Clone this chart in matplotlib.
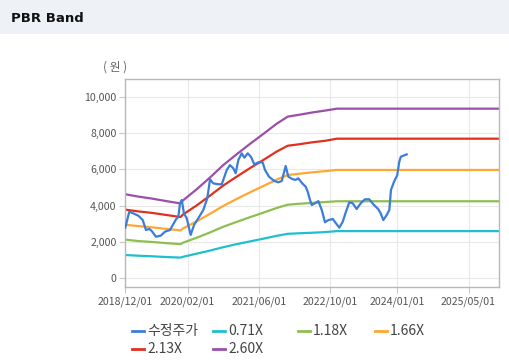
import matplotlib
matplotlib.use('Agg')
import matplotlib.pyplot as plt
from matplotlib.lines import Line2D
from matplotlib.patches import Rectangle
import matplotlib.ticker as mticker
import pandas as pd

plt.rcParams['font.family'] = ['Noto Sans CJK KR', 'DejaVu Sans']

# 수정주가 (adjusted price)
price_dates = [
    '2018-12-03', '2018-12-30', '2019-01-27', '2019-03-02', '2019-04-01', '2019-04-23',
    '2019-05-16', '2019-06-01', '2019-06-30', '2019-08-02', '2019-08-31', '2019-10-04',
    '2019-10-26', '2019-11-14', '2019-11-30', '2019-12-11', '2019-12-23', '2020-01-07',
    '2020-01-26', '2020-02-22', '2020-03-16', '2020-04-14', '2020-05-18', '2020-06-14',
    '2020-07-03', '2020-07-25', '2020-08-28', '2020-09-21', '2020-10-25', '2020-11-16',
    '2020-12-09', '2020-12-25', '2021-01-12', '2021-02-04', '2021-02-22', '2021-03-17',
    '2021-04-08', '2021-05-01', '2021-05-28', '2021-06-27', '2021-07-13', '2021-08-09',
    '2021-09-14', '2021-10-12', '2021-11-04', '2021-12-01', '2021-12-19', '2022-01-15',
    '2022-02-07', '2022-02-25', '2022-03-24', '2022-04-17', '2022-04-30', '2022-05-16',
    '2022-05-28', '2022-06-19', '2022-07-12', '2022-08-04', '2022-08-26', '2022-09-18',
    '2022-10-18', '2022-11-09', '2022-12-02', '2022-12-25', '2023-01-16', '2023-02-08',
    '2023-03-03', '2023-03-30', '2023-04-27', '2023-05-26', '2023-06-24', '2023-07-22',
    '2023-08-25', '2023-09-10', '2023-09-28', '2023-10-21', '2023-11-08', '2023-11-19',
    '2023-12-10', '2024-01-01', '2024-01-15', '2024-01-25', '2024-02-11', '2024-03-05',
]
price = [
    2780, 3660, 3570, 3440, 3200, 2650,
    2710, 2600, 2280, 2340, 2560, 2650,
    2970, 3240, 3390, 4130, 4310, 3570,
    3300, 2380, 2930, 3300, 3760, 4400,
    5450, 5230, 5180, 5180, 5970, 6240,
    6060, 5790, 6520, 6890, 6650, 6890,
    6700, 6280, 6390, 6390, 5970, 5600,
    5360, 5290, 5360, 6190, 5600, 5470,
    5420, 5510, 5230, 5040, 4770, 4310,
    4030, 4130, 4250, 3760, 3080, 3200,
    3260, 3020, 2780, 3110, 3660, 4180,
    4130, 3810, 4130, 4350, 4350, 4070,
    3800, 3570, 3200, 3480, 3760, 4860,
    5320, 5690, 6430, 6700, 6760, 6830,
]

# PBR band lines
band_dates = [
    '2018-12-01', '2019-03-01', '2019-06-01', '2019-09-01', '2019-12-15', '2020-01-01',
    '2020-04-01', '2020-07-01', '2020-10-01', '2021-01-01', '2021-04-01', '2021-07-01',
    '2021-10-01', '2021-12-15', '2022-03-01', '2022-06-01', '2022-09-01', '2022-11-15',
    '2025-11-25',
]
band_071 = [1270, 1230, 1200, 1160, 1125, 1170, 1340, 1510, 1700, 1870, 2020, 2170,
            2330, 2440, 2470, 2500, 2540, 2590, 2590]
band_118 = [2120, 2040, 1990, 1930, 1870, 1950, 2220, 2510, 2830, 3100, 3360, 3610,
            3870, 4050, 4100, 4150, 4200, 4240, 4240]
band_166 = [2940, 2870, 2800, 2720, 2630, 2740, 3120, 3540, 3980, 4370, 4730, 5080,
            5440, 5690, 5760, 5840, 5910, 5970, 5970]
band_213 = [3780, 3680, 3600, 3490, 3370, 3510, 4000, 4540, 5110, 5600, 6070, 6520,
            6990, 7310, 7390, 7500, 7590, 7700, 7700]
band_260 = [4630, 4500, 4390, 4260, 4120, 4290, 4890, 5540, 6240, 6840, 7410, 7960,
            8530, 8920, 9020, 9150, 9260, 9360, 9360]

series_labels = ['수정주가', '0.71X', '1.18X', '1.66X', '2.13X', '2.60X']
series_colors = ['#3b7dd8', '#1fbfcf', '#8dbf4f', '#ffa733', '#e0301e', '#9b4fa8']

x_ticks = ['2018-12-01', '2020-02-01', '2021-06-01', '2022-10-01', '2024-01-01', '2025-05-01']

W, H = 509, 362
fig = plt.figure(figsize=(W / 100, H / 100), dpi=100)
fig.patch.set_facecolor('white')

# header strip
fig.add_artist(Rectangle((0, 1 - 34 / H), 1, 34 / H, transform=fig.transFigure,
                         facecolor='#eef2f7', edgecolor='none', zorder=0))
fig.text(11 / W, 1 - 18 / H, 'PBR Band', fontsize=9.5, fontweight='bold',
         family=['DejaVu Sans'], color='#111111', va='center', ha='left')

ax = fig.add_axes([125 / W, 1 - 287 / H, (499 - 125) / W, (287 - 79) / H])

bd = pd.to_datetime(band_dates)
bands = [band_071, band_118, band_166, band_213, band_260]
for vals, col in zip(bands, series_colors[1:]):
    ax.plot(bd, vals, color=col, lw=1.6, solid_joinstyle='round', zorder=2)
ax.plot(pd.to_datetime(price_dates), price, color=series_colors[0], lw=1.6,
        solid_joinstyle='round', zorder=3)

ax.set_xlim(pd.Timestamp('2018-12-01'), pd.Timestamp('2025-11-25'))
ax.set_ylim(-500, 11000)
ax.set_yticks(range(0, 10001, 2000))
ax.yaxis.set_major_formatter(mticker.FuncFormatter(lambda v, p: f'{int(v):,}'))
ax.set_xticks(pd.to_datetime(x_ticks))
ax.set_xticklabels([d.replace('-', '/') for d in x_ticks])

ax.grid(True, color='#e8e8e8', lw=0.8)
ax.set_axisbelow(True)
for s in ax.spines.values():
    s.set_color('#b8b8b8')
    s.set_linewidth(1.0)
ax.tick_params(axis='both', colors='#c8c8c8', labelcolor='#555555', labelsize=7.6,
               length=4, width=0.8)
ax.tick_params(axis='y', pad=2)
ax.tick_params(axis='x', pad=3)

fig.text(103 / W, 1 - 67 / H, '( 원 )', fontsize=8.5, color='#666666', va='center', ha='left')

# legend laid out as a fixed grid
leg_pos = [(132, 331), (213, 331), (298, 331), (375, 331), (132, 349), (213, 349)]
for (lx, ly), lab, col in zip(leg_pos, series_labels, series_colors):
    fig.add_artist(Line2D([lx / W, (lx + 12) / W], [1 - ly / H, 1 - ly / H],
                          transform=fig.transFigure, color=col, lw=2))
    fig.text((lx + 15) / W, 1 - ly / H, lab, fontsize=10, color='#444444',
             va='center', ha='left')

fig.savefig('out.png', dpi=100)
